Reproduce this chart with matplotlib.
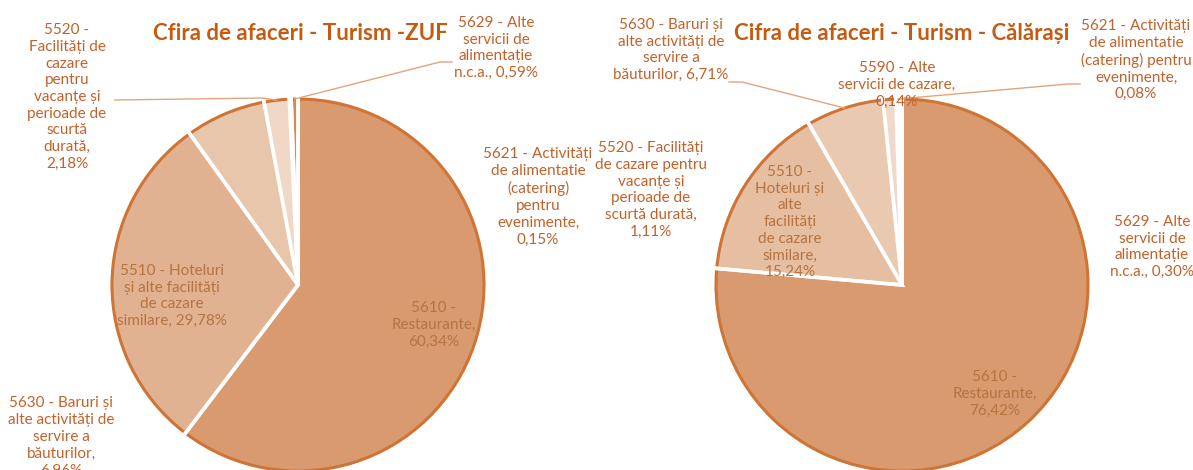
import numpy as np
import matplotlib
matplotlib.use("Agg")
import matplotlib.pyplot as plt

plt.rcParams['font.family'] = ['Lato', 'DejaVu Sans']

# --- data -------------------------------------------------------------
zuf_codes = ['5610', '5510', '5630', '5520', '5621', '5629']
zuf_values = [60.34, 29.78, 6.96, 2.18, 0.15, 0.59]
zuf_labels = ['5610 -\nRestaurante,\n60,34%',
              '5510 - Hoteluri\nși alte facilități\nde cazare\nsimilare, 29,78%',
              '5630 - Baruri și\nalte activități de\nservire a\nbăuturilor,\n6,96%',
              '5520 -\nFacilități de\ncazare\npentru\nvacanțe și\nperioade de\nscurtă\ndurată,\n2,18%',
              '5621 - Activități\nde alimentatie\n(catering)\npentru\nevenimente,\n0,15%',
              '5629 - Alte\nservicii de\nalimentație\nn.c.a., 0,59%']

cl_codes = ['5610', '5510', '5630', '5520', '5590', '5621', '5629']
cl_values = [76.42, 15.24, 6.71, 1.11, 0.14, 0.08, 0.30]
cl_labels = ['5610 -\nRestaurante,\n76,42%',
             '5510 -\nHoteluri și\nalte\nfacilități\nde cazare\nsimilare,\n15,24%',
             '5630 - Baruri și\nalte activități de\nservire a\nbăuturilor, 6,71%',
             '5520 - Facilități\nde cazare pentru\nvacanțe și\nperioade de\nscurtă durată,\n1,11%',
             '5590 - Alte\nservicii de cazare,\n0,14%',
             '5621 - Activități\nde alimentatie\n(catering) pentru\nevenimente,\n0,08%',
             '5629 - Alte\nservicii de\nalimentație\nn.c.a., 0,30%']

titles = ['Cfira de afaceri - Turism -ZUF', 'Cifra de afaceri - Turism - Călărași']

# --- layout / style (pixel units, y measured from top) ------------------
W, H = 1193, 470
R = 186
centers = [(298, 285), (902, 285)]
title_pos = [(300, 33), (902, 33)]
zuf_colors = ['#D99A70', '#E0B292', '#E8C6AC', '#F0D7C6', '#D58A55', '#D58A55']
cl_colors = ['#D99A70', '#E6BEA2', '#EAC9B1', '#F0D9CA', '#F2DFD2', '#E9C3A8', '#DDA07A']
# label centres (pixels)
zuf_lpos = [(434, 325), (172, 296), (61, 437), (67, 97), (538, 197), (496, 48)]
cl_lpos = [(995, 394), (790, 222), (671, 50), (651, 190), (897, 85), (1136, 60), (1152, 247)]
inside = {'5610', '5510'}
# leader line start points (at the label side)
zuf_leaders = {'5520': [(115, 100), (262, 98)], '5629': [(452, 62), (440, 62)]}
cl_leaders = {'5630': [(729, 82), (742, 82)], '5621': [(1080, 84), (1068, 84)]}

TXT = '#C2622A'
TXT_IN = '#B5743F'
EDGE = '#CF7435'
LEAD = '#E3A47C'


def yy(y):
    return H - y


fig = plt.figure(figsize=(W / 100, H / 100), dpi=100)
ax = fig.add_axes([0, 0, 1, 1])


def draw_pie(center, values, colors, codes, labels, lpos, leaders):
    cx, cy = center
    ax.pie(values, colors=colors, startangle=90, counterclock=False,
           radius=R, center=(cx, yy(cy)),
           wedgeprops=dict(edgecolor=EDGE, linewidth=2.2))
    # white separators between the wedges
    ax.pie(values, colors=colors, startangle=90, counterclock=False,
           radius=R + 4, center=(cx, yy(cy)),
           wedgeprops=dict(fill=False, edgecolor='white', linewidth=2.6))
    cum = np.cumsum(values) - np.array(values) / 2.0
    for code, lab, (lx, ly), c in zip(codes, labels, lpos, cum):
        ang = np.deg2rad(90 - 360.0 * c / 100.0)
        if code in leaders:
            pts = leaders[code]
            rim = (cx + R * np.cos(ang), yy(cy) + R * np.sin(ang))
            xs = [p[0] for p in pts] + [rim[0]]
            ys = [yy(p[1]) for p in pts] + [rim[1]]
            ax.plot(xs, ys, color=LEAD, lw=1.0, zorder=3)
        ax.text(lx, yy(ly), lab, ha='center', va='center', multialignment='center',
                fontsize=11, linespacing=1.25,
                color=TXT_IN if code in inside else TXT, zorder=4)


draw_pie(centers[0], zuf_values, zuf_colors, zuf_codes, zuf_labels, zuf_lpos, zuf_leaders)
draw_pie(centers[1], cl_values, cl_colors, cl_codes, cl_labels, cl_lpos, cl_leaders)

for t, (tx, ty) in zip(titles, title_pos):
    ax.text(tx, yy(ty), t, ha='center', va='center', fontsize=16,
            fontweight='bold', color='#C55A11', zorder=5)

ax.set_xlim(0, W)
ax.set_ylim(0, H)
ax.set_aspect('equal')
ax.axis('off')

fig.savefig('out.png', dpi=100, facecolor='white')
